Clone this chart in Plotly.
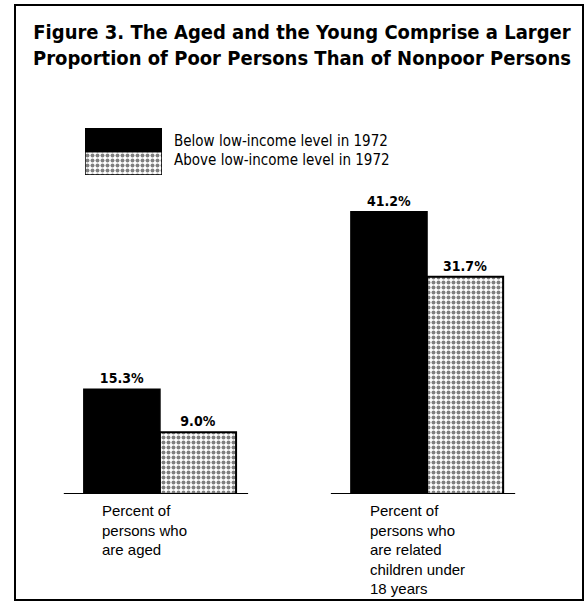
import plotly.graph_objects as go

W, H = 588, 605

groups = [0, 1]
group_labels = [
    "Percent of<br>persons who<br>are aged",
    "Percent of<br>persons who<br>are related<br>children under<br>18 years",
]
below_level = [15.3, 41.2]
above_level = [9.0, 31.7]
series_names = ["Below low-income level in 1972", "Above low-income level in 1972"]

COND = "DejaVu Sans Condensed, Liberation Sans Narrow, Arial Narrow, sans-serif"
PLAIN = "Liberation Sans, Arial, sans-serif"
DOTS = dict(shape=".", fgcolor="black", bgcolor="white", size=5, solidity=0.5)


def px(x):
    return x / W


def py(y):
    return 1 - y / H


fig = go.Figure()

fig.add_trace(go.Bar(
    x=groups, y=below_level, name=series_names[0], offsetgroup="below",
    marker=dict(color="black", line=dict(color="black", width=1.5)),
    text=[f"<b>{v:.1f}%</b>" for v in below_level], textposition="outside",
    textfont=dict(family=COND, size=14, color="black"),
    cliponaxis=False, showlegend=False,
))
fig.add_trace(go.Bar(
    x=groups, y=above_level, name=series_names[1], offsetgroup="above",
    marker=dict(color="white", pattern=DOTS, line=dict(color="black", width=2)),
    text=[f"<b>{v:.1f}%</b>" for v in above_level], textposition="outside",
    textfont=dict(family=COND, size=14, color="black"),
    cliponaxis=False, showlegend=False,
))

# legend swatch: one box, black on top, dotted below
fig.add_trace(go.Bar(x=[0], y=[1], base=[0], xaxis="x2", yaxis="y2", width=[1], offsetgroup="leg",
                     marker=dict(color="white", pattern=DOTS, line=dict(color="black", width=1.5)),
                     showlegend=False, hoverinfo="skip"))
fig.add_trace(go.Bar(x=[0], y=[1], base=[1], xaxis="x2", yaxis="y2", width=[1], offsetgroup="leg",
                     marker=dict(color="black", line=dict(color="black", width=1.5)),
                     showlegend=False, hoverinfo="skip"))

# baselines under each group
for g in groups:
    fig.add_shape(type="line", xref="x", yref="y", x0=g - 0.36, x1=g + 0.33, y0=0, y1=0,
                  line=dict(color="black", width=2))

# outer frame
fig.add_shape(type="rect", xref="paper", yref="paper",
              x0=px(15), x1=px(583), y0=py(600), y1=py(5),
              line=dict(color="black", width=2))

fig.add_annotation(
    text="<b>Figure 3. The Aged and the Young Comprise a Larger<br>"
         "Proportion of Poor Persons Than of Nonpoor Persons</b>",
    xref="paper", yref="paper", x=px(302), y=py(18), xanchor="center", yanchor="top",
    showarrow=False, align="center", font=dict(family=COND, size=20, color="black"))

for i, name in enumerate(series_names):
    fig.add_annotation(text=name, xref="paper", yref="paper", x=px(172), y=py(141 + 19 * i),
                       xanchor="left", yanchor="middle", showarrow=False,
                       font=dict(family=COND, size=15, color="black"))

for g, lab, lx in zip(groups, group_labels, [100, 368]):
    fig.add_annotation(text=lab, xref="paper", yref="paper", x=px(lx), y=py(500),
                       xanchor="left", yanchor="top", showarrow=False, align="left",
                       font=dict(family=PLAIN, size=15, color="black"))

fig.update_layout(
    width=W, height=H, margin=dict(l=0, r=0, t=0, b=0),
    paper_bgcolor="white", plot_bgcolor="white",
    barmode="group", bargap=0.43, bargroupgap=0,
    xaxis=dict(domain=[px(16), px(583)], range=[-0.539, 1.584], visible=False, fixedrange=True),
    yaxis=dict(domain=[py(494), py(100)], range=[0, 57.5], visible=False, fixedrange=True),
    xaxis2=dict(domain=[px(85), px(162)], range=[-0.5, 0.5], visible=False, anchor="y2"),
    yaxis2=dict(domain=[py(175), py(128)], range=[0, 2], visible=False, anchor="x2"),
    font=dict(family=COND),
)

fig.write_html("out.html", config={"displayModeBar": False},
               post_script="document.body.style.margin='0';")
